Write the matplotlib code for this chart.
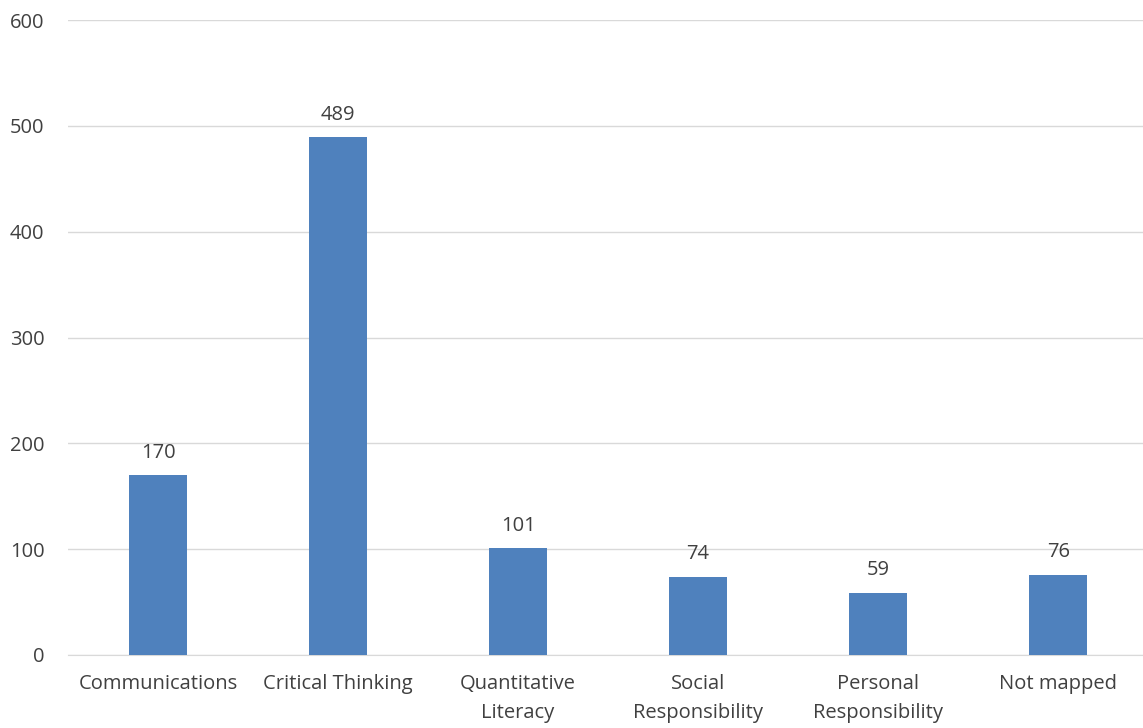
import matplotlib.pyplot as plt

categories = ['Communications', 'Critical Thinking', 'Quantitative\nLiteracy',
              'Social\nResponsibility', 'Personal\nResponsibility', 'Not mapped']
values = [170, 489, 101, 74, 59, 76]
yticks = [0, 100, 200, 300, 400, 500, 600]

plt.rcParams['font.family'] = ['Open Sans', 'DejaVu Sans']

fig = plt.figure(figsize=(11.43, 7.28), dpi=100)
ax = fig.add_axes([0.0595, 0.1003, 0.945, 0.8722])

x = range(len(categories))
bars = ax.bar(x, values, width=0.32, color='#4F81BD', zorder=3)
for b, v in zip(bars, values):
    ax.annotate(str(v), (b.get_x() + b.get_width() / 2, v), xytext=(0, 9),
                textcoords='offset points', ha='center', va='bottom',
                fontsize=14.5, color='#404040')

ax.set_xlim(-0.5, len(categories) - 0.5)
ax.set_ylim(0, 600)
ax.set_yticks(yticks)
ax.set_xticks(list(x))
ax.set_xticklabels(categories, fontsize=14.5, color='#404040', linespacing=1.6)
ax.tick_params(axis='y', labelsize=14.5, labelcolor='#404040', length=0, pad=17)
ax.tick_params(axis='x', length=0, pad=14)
ax.grid(axis='y', color='#D9D9D9', linewidth=1, zorder=0)
for s in ['top', 'right', 'left']:
    ax.spines[s].set_visible(False)
ax.spines['bottom'].set_color('#D9D9D9')

fig.savefig('out.png', dpi=100)
